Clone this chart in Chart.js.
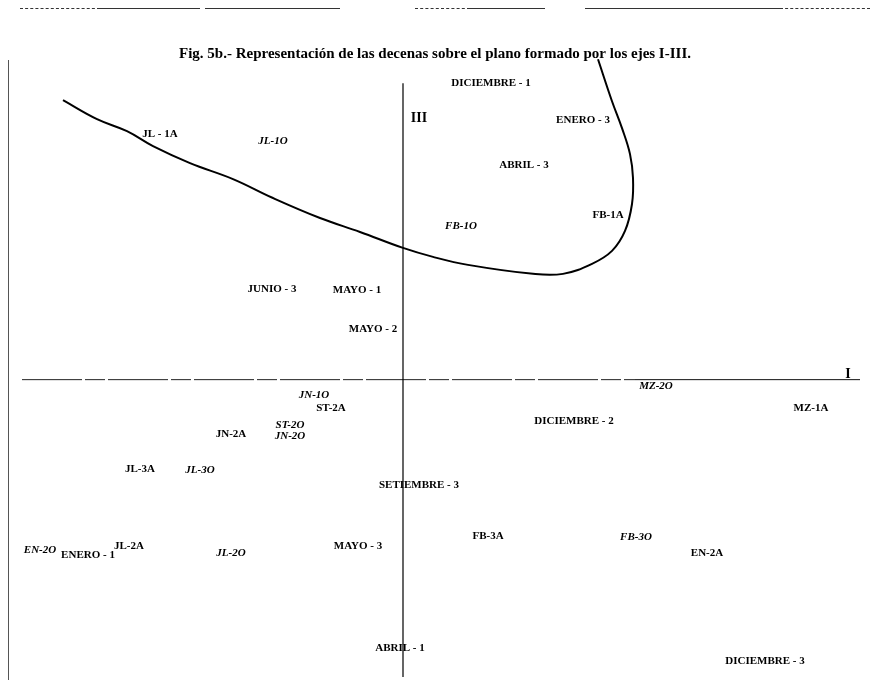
<!DOCTYPE html>
<html>
<head>
<meta charset="utf-8">
<script src="https://cdn.jsdelivr.net/npm/chart.js@4.4.0/dist/chart.umd.min.js"></script>
<style>
  html, body { margin: 0; padding: 0; background: #fff; }
  #wrap { position: relative; width: 870px; height: 689px; }
  .ft { position: absolute; top: 8px; height: 0; border-top: 1px solid #333; }
  .ft.d { border-top-style: dashed; }
  #frameLeft { position: absolute; left: 8px; top: 60px; width: 0; height: 620px; border-left: 1px solid #555; }
  canvas { position: absolute; left: 0; top: 0; }
</style>
</head>
<body>
<div id="wrap">
  <div class="ft d" style="left:20px;width:80px"></div>
  <div class="ft" style="left:100px;width:100px"></div>
  <div class="ft" style="left:205px;width:135px"></div>
  <div class="ft d" style="left:415px;width:55px"></div>
  <div class="ft" style="left:470px;width:75px"></div>
  <div class="ft" style="left:585px;width:195px"></div>
  <div class="ft d" style="left:780px;width:90px"></div>
  <div id="frameLeft"></div>
  <canvas id="myChart" width="870" height="689"></canvas>
</div>
<script>
// decenas (labels) and their coordinates on axes I (x) and III (y)
var labels = ['DICIEMBRE - 1', 'ENERO - 3', 'ABRIL - 3', 'FB-1A', 'FB-1O', 'JL - 1A', 'JL-1O',
  'JUNIO - 3', 'MAYO - 1', 'MAYO - 2', 'MZ-2O', 'MZ-1A', 'DICIEMBRE - 2', 'JN-1O', 'ST-2A',
  'ST-2O', 'JN-2O', 'JN-2A', 'JL-3A', 'JL-3O', 'SETIEMBRE - 3', 'FB-3A', 'FB-3O', 'EN-2A',
  'DICIEMBRE - 3', 'ABRIL - 1', 'MAYO - 3', 'JL-2O', 'JL-2A', 'ENERO - 1', 'EN-2O'];
var xI = [0.44, 0.90, 0.605, 1.025, 0.29, -1.215, -0.65,
  -0.655, -0.23, -0.15, 1.265, 2.04, 0.855, -0.445, -0.36,
  -0.565, -0.565, -0.86, -1.315, -1.015, 0.08, 0.425, 1.165, 1.52,
  1.81, -0.015, -0.225, -0.86, -1.37, -1.575, -1.815];
var yIII = [1.485, 1.30, 1.075, 0.825, 0.77, 1.23, 1.195,
  0.455, 0.45, 0.255, -0.035, -0.145, -0.21, -0.08, -0.145,
  -0.23, -0.285, -0.275, -0.45, -0.455, -0.53, -0.785, -0.79, -0.87,
  -1.41, -1.345, -0.835, -0.87, -0.835, -0.88, -0.855];
// italic = 'O' groups
var italic = [false, false, false, false, true, false, true,
  false, false, false, true, false, false, true, false,
  true, true, false, false, true, false, false, true, false,
  false, false, false, true, false, false, true];

// hand drawn curve
var curveX = [-1.70, -1.53, -1.38, -1.25, -1.065, -0.85, -0.65, -0.415, -0.215, 0, 0.15, 0.325,
  0.65, 0.80, 0.945, 1.045, 1.11, 1.145, 1.15, 1.135, 1.095, 1.045, 0.975];
var curveY = [1.40, 1.305, 1.245, 1.17, 1.085, 1.005, 0.91, 0.81, 0.74, 0.66, 0.615, 0.575,
  0.53, 0.53, 0.58, 0.645, 0.745, 0.88, 1.01, 1.13, 1.26, 1.395, 1.605];

// axis names
var axisNames = ['I', 'III'];
var axisNameX = [2.225, 0.08];
var axisNameY = [0.025, 1.31];

function pts(xs, ys) {
  return xs.map(function (x, i) { return { x: x, y: ys[i] }; });
}

var textPlugin = {
  id: 'pointText',
  afterDatasetsDraw: function (chart) {
    var ctx = chart.ctx;
    chart.data.datasets.forEach(function (ds, di) {
      if (!ds.texts) return;
      var meta = chart.getDatasetMeta(di);
      meta.data.forEach(function (el, i) {
        ctx.save();
        ctx.fillStyle = '#000';
        ctx.textAlign = 'center';
        ctx.textBaseline = 'middle';
        ctx.font = (ds.italics && ds.italics[i] ? 'italic bold ' : 'bold ') + ds.fontSize + 'px "Liberation Serif", serif';
        ctx.fillText(ds.texts[i], el.x, el.y);
        ctx.restore();
      });
    });
  }
};

var ctx = document.getElementById('myChart').getContext('2d');
var myChart = new Chart(ctx, {
  type: 'scatter',
  data: {
    datasets: [
      {
        // axis III
        data: [{ x: 0, y: 1.485 }, { x: 0, y: -1.49 }],
        showLine: true, borderColor: '#000', borderWidth: 1.2, pointRadius: 0
      },
      {
        // axis I, broken part
        data: [{ x: -1.905, y: 0 }, { x: 1.16, y: 0 }],
        showLine: true, borderColor: '#222', borderWidth: 1, borderDash: [60, 3, 20, 3], pointRadius: 0
      },
      {
        data: [{ x: 1.16, y: 0 }, { x: 2.285, y: 0 }],
        showLine: true, borderColor: '#111', borderWidth: 1, pointRadius: 0
      },
      {
        data: pts(curveX, curveY),
        showLine: true, borderColor: '#000', borderWidth: 2, tension: 0.4,
        pointRadius: 0, clip: false
      },
      {
        data: pts(xI, yIII),
        pointRadius: 0,
        texts: labels, italics: italic, fontSize: 11
      },
      {
        data: pts(axisNameX, axisNameY),
        pointRadius: 0,
        texts: axisNames, fontSize: 14
      }
    ]
  },
  options: {
    responsive: false,
    animation: false,
    events: [],
    layout: { padding: 0 },
    plugins: {
      legend: { display: false },
      tooltip: { enabled: false },
      title: {
        display: true,
        text: 'Fig. 5b.- Representación de las decenas sobre el plano formado por los ejes I-III.',
        color: '#000',
        font: { family: '"Liberation Serif", serif', size: 15, weight: 'bold' },
        padding: { top: 45, bottom: 0 }
      }
    },
    scales: {
      x: { type: 'linear', display: false, min: -2.015, max: 2.335 },
      y: { type: 'linear', display: false, min: -1.55, max: 1.5865 }
    }
  },
  plugins: [textPlugin]
});
</script>
</body>
</html>
